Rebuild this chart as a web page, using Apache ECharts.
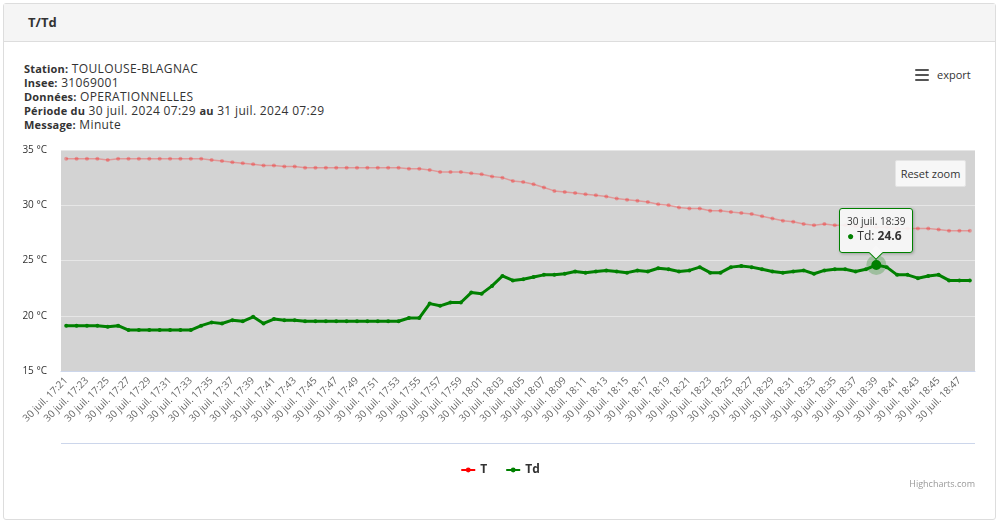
<!DOCTYPE html>
<html>
<head>
<meta charset="utf-8">
<script src="https://cdn.jsdelivr.net/npm/echarts@6/dist/echarts.min.js"></script>
<style>
html,body{margin:0;padding:0;width:1000px;height:524px;background:#fff;overflow:hidden;font-family:"Open Sans",sans-serif;color:#333;}
#panel{position:absolute;left:3px;top:3px;width:993px;height:517px;border:1px solid #dddddd;border-radius:3px;box-sizing:border-box;}
#head{position:absolute;left:4px;top:4px;width:991px;height:37px;background:#f5f5f5;border-bottom:1px solid #dddddd;}
#title{position:absolute;left:28px;top:13px;font-weight:bold;font-size:13px;line-height:18px;color:#333;}
#info{position:absolute;left:24px;top:62px;font-size:12px;line-height:14px;color:#333;white-space:nowrap;letter-spacing:0.35px;}
#info b{font-weight:bold;font-size:11px;letter-spacing:0.2px;}
#export{position:absolute;left:915px;top:67px;font-size:11px;line-height:16px;color:#333;}
#export .ic{position:absolute;left:0;top:2px;width:14px;height:12px;}
#export .ic i{position:absolute;left:0;width:14px;height:2px;background:#555;border-radius:1px;}
#export span{position:absolute;left:22px;top:0;}
#chart{position:absolute;left:0;top:0;width:1000px;height:524px;}
#reset{position:absolute;left:895px;top:160px;width:71px;height:27px;background:#f7f7f7;border:1px solid #e4e4e4;border-radius:2px;box-sizing:border-box;font-size:11px;line-height:25px;text-align:center;color:#333;}
#credit{position:absolute;right:25px;top:478px;font-size:9px;line-height:12px;color:#999;}
</style>
</head>
<body>
<div id="panel"></div>
<div id="head"></div>
<div id="title">T/Td</div>
<div id="info">
<div><b>Station:</b> TOULOUSE-BLAGNAC</div>
<div><b>Insee:</b> 31069001</div>
<div><b>Données:</b> OPERATIONNELLES</div>
<div><b>Période du</b> 30 juil. 2024 07:29 <b>au</b> 31 juil. 2024 07:29</div>
<div><b>Message:</b> Minute</div>
</div>
<div id="export"><div class="ic"><i style="top:0"></i><i style="top:5px"></i><i style="top:10px"></i></div><span>export</span></div>
<div id="chart"></div>
<div id="reset">Reset zoom</div>
<div id="credit">Highcharts.com</div>
<script>
var datePrefix = '30 juil. ';
var times = [
'17:21','17:22','17:23','17:24','17:25','17:26','17:27','17:28','17:29','17:30',
'17:31','17:32','17:33','17:34','17:35','17:36','17:37','17:38','17:39','17:40',
'17:41','17:42','17:43','17:44','17:45','17:46','17:47','17:48','17:49','17:50',
'17:51','17:52','17:53','17:54','17:55','17:56','17:57','17:58','17:59','18:00',
'18:01','18:02','18:03','18:04','18:05','18:06','18:07','18:08','18:09','18:10',
'18:11','18:12','18:13','18:14','18:15','18:16','18:17','18:18','18:19','18:20',
'18:21','18:22','18:23','18:24','18:25','18:26','18:27','18:28','18:29','18:30',
'18:31','18:32','18:33','18:34','18:35','18:36','18:37','18:38','18:39','18:40',
'18:41','18:42','18:43','18:44','18:45','18:46','18:47','18:48'
];
var tValues = [
34.2,34.2,34.2,34.2,34.1,34.2,34.2,34.2,34.2,34.2,
34.2,34.2,34.2,34.2,34.1,34.0,33.9,33.8,33.7,33.6,
33.6,33.5,33.5,33.4,33.4,33.4,33.4,33.4,33.4,33.4,
33.4,33.4,33.4,33.3,33.3,33.2,33.0,33.0,33.0,32.9,
32.8,32.6,32.5,32.2,32.1,31.9,31.6,31.3,31.2,31.1,
31.0,30.9,30.8,30.6,30.5,30.4,30.3,30.1,30.0,29.8,
29.7,29.7,29.5,29.5,29.4,29.3,29.2,29.0,28.8,28.6,
28.5,28.3,28.2,28.3,28.2,28.2,28.1,28.1,28.0,28.0,
27.9,27.9,27.9,27.9,27.8,27.7,27.7,27.7
];
var tdValues = [
19.1,19.1,19.1,19.1,19.0,19.1,18.7,18.7,18.7,18.7,
18.7,18.7,18.7,19.1,19.4,19.3,19.6,19.5,19.9,19.3,
19.7,19.6,19.6,19.5,19.5,19.5,19.5,19.5,19.5,19.5,
19.5,19.5,19.5,19.8,19.8,21.1,20.9,21.2,21.2,22.1,
22.0,22.7,23.6,23.2,23.3,23.5,23.7,23.7,23.8,24.0,
23.9,24.0,24.1,24.0,23.9,24.1,24.0,24.3,24.2,24.0,
24.1,24.4,23.9,23.9,24.4,24.5,24.4,24.2,24.0,23.9,
24.0,24.1,23.8,24.1,24.2,24.2,24.0,24.2,24.6,24.4,
23.7,23.7,23.4,23.6,23.7,23.2,23.2,23.2
];
var yTicks = [15, 20, 25, 30, 35];
var hoverTime = '18:39';

var hoverIdx = times.indexOf(hoverTime);
var chart = echarts.init(document.getElementById('chart'), null, {renderer: 'canvas'});
var option = {
  animation: false,
  backgroundColor: 'transparent',
  textStyle: {fontFamily: '"Open Sans", sans-serif'},
  grid: {left: 61, right: 25, top: 150, bottom: 153, show: true, backgroundColor: '#d3d3d3', borderWidth: 0, containLabel: false},
  legend: {
    top: 459, left: 'center', itemWidth: 14, itemHeight: 6, itemGap: 18,
    textStyle: {fontWeight: 'bold', fontSize: 12, color: '#333', fontFamily: '"Open Sans", sans-serif'},
    data: [
      {name: 'T', itemStyle: {color: '#ff0000', opacity: 1}, lineStyle: {color: '#ff0000', opacity: 1, width: 2}},
      {name: 'Td', itemStyle: {color: '#008000', opacity: 1}, lineStyle: {color: '#008000', opacity: 1, width: 2}}
    ]
  },
  tooltip: {
    trigger: 'item', triggerOn: 'none', alwaysShowContent: true, position: 'top',
    transitionDuration: 0,
    backgroundColor: 'rgba(247,247,247,0.92)', borderColor: '#008000', borderWidth: 1,
    padding: [6, 7, 8, 7],
    extraCssText: 'box-shadow:1px 1px 3px rgba(0,0,0,0.25);border-radius:3px;overflow:visible;',
    formatter: function (p) {
      return '<div style="font-size:10px;line-height:13px;color:#333;font-family:Open Sans,sans-serif">' + datePrefix + times[p.dataIndex] + '</div>' +
        '<div style="font-size:12px;line-height:16px;color:#333;font-family:Open Sans,sans-serif"><span style="color:' + p.color + '">\u25CF</span> ' + p.seriesName + ': <b>' + p.value + '</b></div>' +
        '<div style="position:absolute;left:50%;bottom:-6px;width:9px;height:9px;margin-left:-5px;background:rgb(247,247,247);border-right:1px solid #008000;border-bottom:1px solid #008000;transform:rotate(45deg);"></div>';
    }
  },
  xAxis: {
    type: 'category', data: times, boundaryGap: true,
    axisLine: {lineStyle: {color: '#ccd6eb', width: 1}},
    axisTick: {show: false},
    splitLine: {show: false},
    axisLabel: {
      interval: 1, rotate: 45, fontSize: 10, color: '#666', margin: 8,
      fontFamily: '"Open Sans", sans-serif',
      formatter: function (v) { return datePrefix + v; }
    }
  },
  yAxis: {
    type: 'value', min: yTicks[0], max: yTicks[yTicks.length - 1], interval: 5,
    axisLine: {show: false}, axisTick: {show: false},
    splitLine: {lineStyle: {color: '#e6e6e6', width: 1}},
    axisLabel: {formatter: '{value} °C', fontSize: 10, color: '#333', margin: 14, fontFamily: '"Open Sans", sans-serif'}
  },
  graphic: [
    {type: 'line', shape: {x1: 61, y1: 443.5, x2: 975, y2: 443.5}, style: {stroke: '#ccd6eb', lineWidth: 1}, silent: true}
  ],
  series: [
    {
      name: 'T', type: 'line', data: tValues, symbol: 'circle', symbolSize: 4, showSymbol: true,
      lineStyle: {color: '#ff0000', width: 1.5, opacity: 0.28},
      itemStyle: {color: '#ff0000', opacity: 0.3},
      emphasis: {disabled: true}, z: 2
    },
    {
      name: 'Td', type: 'line', data: tdValues, symbol: 'circle', symbolSize: 4, showSymbol: true,
      lineStyle: {color: '#008000', width: 3},
      itemStyle: {color: '#008000'},
      emphasis: {disabled: true}, z: 3,
      markPoint: {
        silent: true, animation: false,
        label: {show: false},
        data: [
          {coord: [times[hoverIdx], tdValues[hoverIdx]], symbol: 'circle', symbolSize: 20, itemStyle: {color: 'rgba(0,128,0,0.25)'}},
          {coord: [times[hoverIdx], tdValues[hoverIdx]], symbol: 'circle', symbolSize: 8, itemStyle: {color: '#008000', borderColor: '#008000'}}
        ]
      }
    }
  ]
};
chart.setOption(option);
chart.dispatchAction({type: 'showTip', seriesIndex: 1, dataIndex: hoverIdx});
</script>
</body>
</html>
